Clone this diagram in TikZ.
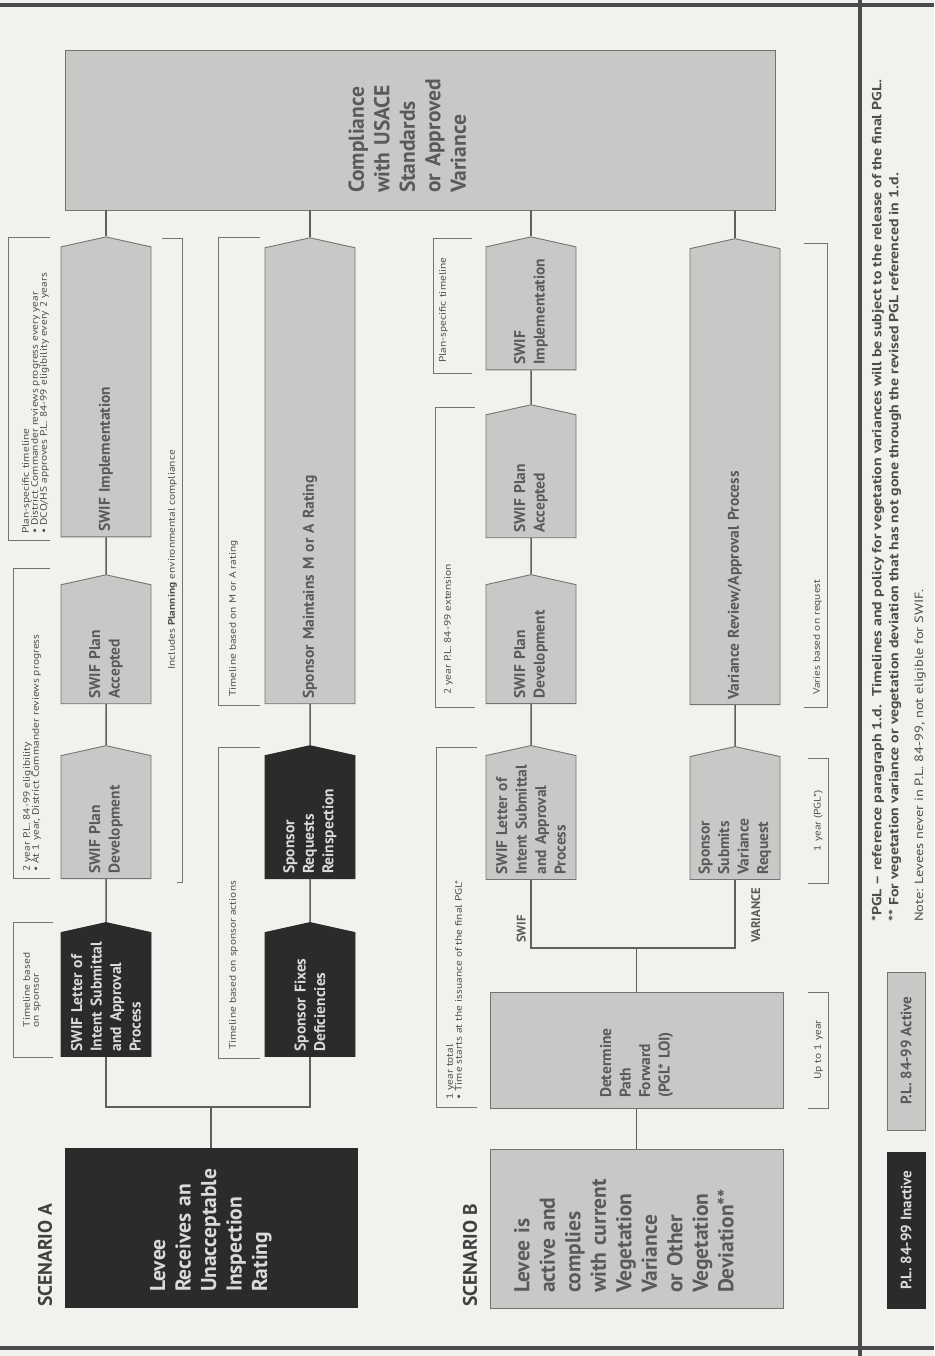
\documentclass[tikz,border=0pt]{standalone}
\usepackage{fontspec}
\setmainfont{PT Sans}
\newfontfamily\lvwidefont[FakeStretch=1.2,Ligatures=TeX]{PT Sans}
\usepackage{tikz}
\usetikzlibrary{positioning,shapes.symbols}
\definecolor{LvPaper}{HTML}{F1F1EE}
\definecolor{LvInk}{HTML}{2B2B2B}
\definecolor{LvGrey}{HTML}{C8C8C6}
\definecolor{LvEdge}{HTML}{737373}
\definecolor{LvText}{HTML}{5A5A5A}
\definecolor{LvLight}{HTML}{DADADA}
\definecolor{LvLine}{HTML}{5F5F5F}
\definecolor{LvNote}{HTML}{4F4F4F}
\newcommand{\lvbig}{\fontsize{21.5}{25.5}\selectfont\bfseries}
\newcommand{\lvmid}{\fontsize{15.5}{19.5}\selectfont\bfseries}
\newcommand{\lvnote}{\lvwidefont\fontsize{9.5}{9}\selectfont}
\newcommand{\lvfoot}{\lvwidefont\fontsize{13.2}{15}\selectfont\bfseries}
\newcommand{\lvfootlight}{\lvwidefont\fontsize{12}{13}\selectfont}
\newcommand{\lvhead}{\fontsize{19.5}{22}\selectfont\bfseries}
\newcommand{\lvtag}{\fontsize{12.5}{14}\selectfont\bfseries}
\newcommand{\lvkey}{\fontsize{15}{17}\selectfont\bfseries}

\begin{document}
\begin{tikzpicture}[
  stage/.style={signal,signal to=east,signal pointer angle=155,minimum height=90pt,inner xsep=5pt,inner ysep=0pt,align=left,font=\lvmid,draw=LvEdge,fill=LvGrey,text=LvText,line width=0.9pt},
  dark/.style={draw=LvInk,fill=LvInk,text=LvLight},
  block/.style={rectangle,draw=LvEdge,fill=LvGrey,text=LvText,align=left,font=\lvbig,line width=0.9pt},
  link/.style={draw=LvLine,line width=1.5pt},
  brk/.style={draw=LvEdge,line width=0.7pt},
  note/.style={font=\lvnote,text=LvNote,align=left,inner sep=0pt},
  lvframe/.style={draw=LvInk!85,line width=4pt},
  tag/.style={font=\lvtag,text=LvText,inner sep=0pt},
  head/.style={font=\lvhead,text=LvInk!90,inner sep=0pt,anchor=west},
]
\begin{scope}[rotate=90,x=1pt,y=-1pt,transform shape]
\path[use as bounding box] (0,0) rectangle (1356,934);
\fill[LvPaper] (0,0) rectangle (1356,934);

% page rules
\draw[lvframe] (8,0) -- (8,934);
\draw[lvframe] (1351,0) -- (1351,934);
\draw[lvframe] (0,860) -- (1356,860);

% timeline brackets
\foreach \xa/\xb/\ya/\yb in {299/434/13/53,478/788/13/50,816/1119/8/50,298/609/218/260,651/1119/218/260,249/609/436/477,649/949/435/475,983/1118/433/472,248/364/828/808,473/598/828/808,649/1113/827/804}
  \draw[brk] (\xa,\yb) -- (\xa,\ya) -- (\xb,\ya) -- (\xb,\yb);
\draw[brk] (474,177) -- (474,182) -- (1118,182) -- (1118,162);

\node[note,anchor=north] (noteA1) at (366,23) {Timeline based\\on sponsor};
\node[note,anchor=north west] (noteA2) at (484,23) {2 year P.L. 84-99 eligibility\\\textbullet\ At 1 year, District Commander reviews progress};
\node[note,anchor=north west] (noteA3) at (822,22) {Plan-specific timeline\\\textbullet\ District Commander reviews progress every year\\\textbullet\ DCO/HS approves P.L. 84-99 eligibility every 2 years};
\node[note,anchor=south] (noteA4) at (796,177) {Includes \textbf{Planning} environmental compliance};
\node[note,anchor=north west] (noteA5) at (306,229) {Timeline based on sponsor actions};
\node[note,anchor=north west] (noteA6) at (659,229) {Timeline based on M or A rating};
\node[note,anchor=north west] (noteB1) at (256,446) {1 year total\\\textbullet\ Time starts at the issuance of the final PGL*};
\node[note,anchor=north west] (noteB2) at (661,444) {2 year P.L. 84-99 extension};
\node[note,anchor=north west] (noteB3) at (993,439) {Plan-specific timeline};
\node[note,anchor=south] (noteB4) at (306,823) {Up to 1 year};
\node[note,anchor=south] (noteB5) at (535,823) {1 year (PGL*)};
\node[note,anchor=south west] (noteB6) at (661,822) {Varies based on request};

% end state
\node[block,minimum width=160pt,minimum height=710pt,text width=126pt] (comp) at (1226,420) {Compliance\\with USACE\\Standards\\or Approved\\Variance\\\mbox{}};

% scenario A
\node[head] (scenA) at (49,45) {SCENARIO A};
\node[block,dark,minimum width=159pt,minimum height=292pt,text width=129pt] (leveeA) at (128.5,211) {Levee\\Receives an\\Unacceptable\\Inspection\\Rating};
\coordinate (forkA) at (249,211);
\node[stage,dark,text width=114pt,anchor=west] (loiA) at (299,106) {SWIF Letter of\\Intent Submittal\\and Approval\\Process};
\node[stage,text width=113pt,right=43pt of loiA] (devA) {SWIF Plan\\Development};
\node[stage,text width=109pt,right=41pt of devA] (accA) {SWIF Plan\\Accepted};
\node[stage,text width=280pt,right=37pt of accA] (implA) {SWIF Implementation};
\node[stage,dark,text width=114pt,anchor=west] (fixA) at (299,310) {Sponsor Fixes\\Deficiencies};
\node[stage,dark,text width=113pt,right=43pt of fixA] (reqA) {Sponsor\\Requests\\Reinspection};
\node[stage,text width=446pt,right=41pt of reqA] (maintA) {Sponsor Maintains M or A Rating};

% scenario B
\node[head] (scenB) at (49,470) {SCENARIO B};
\node[block,minimum width=159pt,minimum height=293pt,text width=129pt] (leveeB) at (127.5,636.5) {Levee is\\active and\\complies\\with current\\Vegetation\\Variance\\or Other\\Vegetation\\Deviation**\\\mbox{}};
\node[block,font=\lvmid,minimum width=116pt,minimum height=293pt,text width=96pt] (detB) at (306,636.5) {Determine\\Path\\Forward\\(PGL* LOI)};
\coordinate (forkB) at (408,636.5);
\node[stage,text width=114pt,anchor=west] (loiB) at (476,531) {SWIF Letter of\\Intent Submittal\\and Approval\\Process};
\node[stage,text width=109pt,right=41pt of loiB] (devB) {SWIF Plan\\Development};
\node[stage,text width=113pt,right=36pt of devB] (accB) {SWIF Plan\\Accepted};
\node[stage,text width=113pt,right=34pt of accB] (implB) {SWIF\\Implementation};
\node[stage,text width=113pt,anchor=west] (varReq) at (476,735) {Sponsor\\Submits\\Variance\\Request};
\node[stage,text width=446pt,right=41pt of varReq] (varRev) {Variance Review/Approval Process};
\node[tag,anchor=south west] (swifTag) at (413,526) {SWIF};
\node[tag,anchor=north west] (varTag) at (413,751) {VARIANCE};

% connectors
\draw[link] (leveeA) -- (forkA);
\draw[link] (loiA.west) -| (forkA);
\draw[link] (fixA.west) -| (forkA);
\draw[link] (loiA) -- (devA);
\draw[link] (devA) -- (accA);
\draw[link] (accA) -- (implA);
\draw[link] (fixA) -- (reqA);
\draw[link] (reqA) -- (maintA);
\draw[link] (leveeB) -- (detB);
\draw[link] (detB) -- (forkB);
\draw[link] (loiB.west) -| (forkB);
\draw[link] (varReq.west) -| (forkB);
\draw[link] (loiB) -- (devB);
\draw[link] (devB) -- (accB);
\draw[link] (accB) -- (implB);
\draw[link] (varReq) -- (varRev);
\foreach \n in {implA,maintA,implB,varRev}
  \draw[link] (\n.east) -- (\n.east -| comp.west);

% key and footnotes
\node[block,dark,font=\lvkey,align=center,minimum width=156pt,minimum height=38pt] (keyOff) at (126,906) {P.L. 84-99 Inactive};
\node[block,font=\lvkey,align=center,minimum width=158pt,minimum height=38pt] (keyOn) at (305,906) {P.L. 84-99 Active};
\node[note,font=\lvfoot,anchor=west] (fnA) at (434,878) {*PGL \textendash{} reference paragraph 1.d.\ \ Timelines and policy for vegetation variances will be subject to the release of the final PGL.};
\node[note,font=\lvfoot,anchor=west] (fnB) at (434,895) {** For vegetation variance or vegetation deviation that has not gone through the revised PGL referenced in 1.d.};
\node[note,font=\lvfootlight,anchor=west] (fnC) at (434,920) {Note: Levees never in P.L. 84-99, not eligible for SWIF.};
\end{scope}
\end{tikzpicture}
\end{document}
